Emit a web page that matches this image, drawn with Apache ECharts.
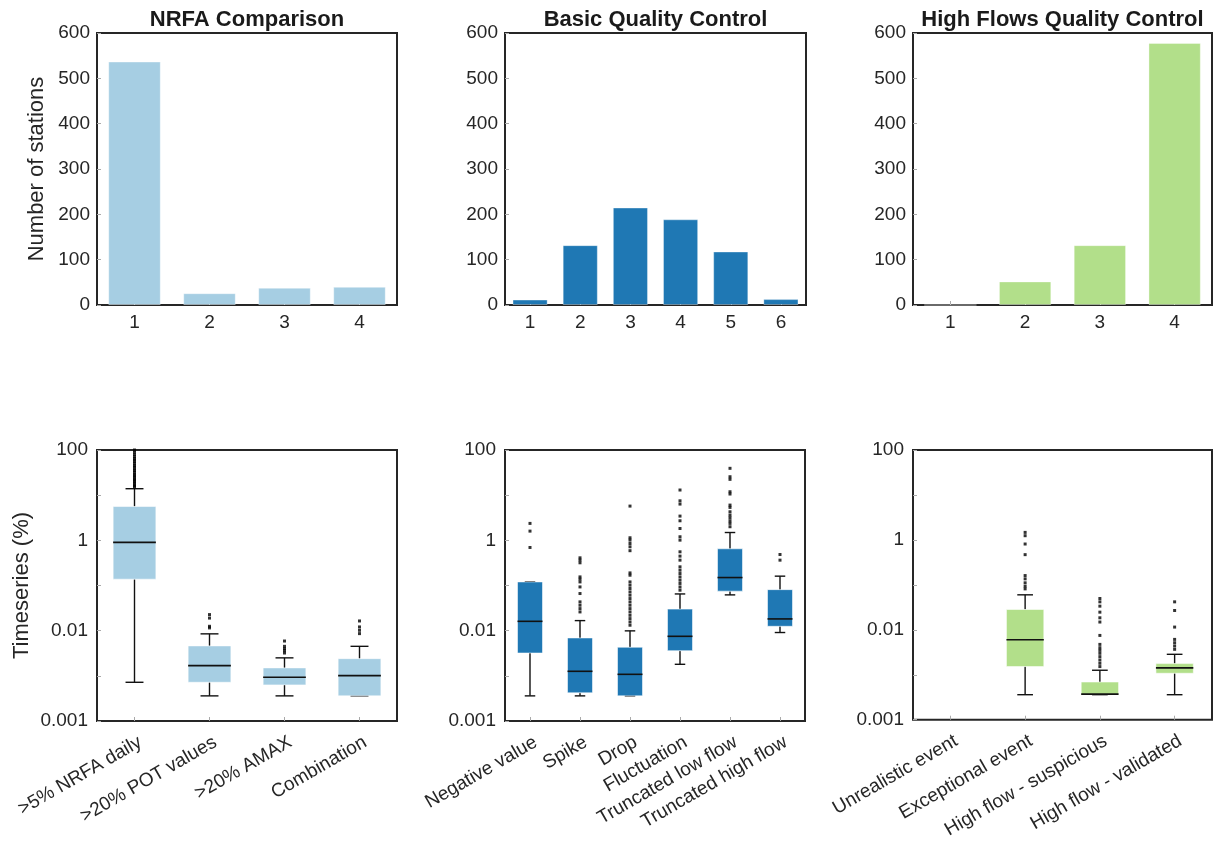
<!DOCTYPE html>
<html>
<head>
<meta charset="utf-8">
<script src="https://cdn.jsdelivr.net/npm/echarts@6/dist/echarts.min.js"></script>
<style>
html,body{margin:0;padding:0;background:#fff;}
#chart{width:1214px;height:843px;}
</style>
</head>
<body>
<div id="chart"></div>
<script>
// ---- Data ----
const panelTitles = ['NRFA Comparison', 'Basic Quality Control', 'High Flows Quality Control'];

const nrfaCats = ['1', '2', '3', '4'];
const nrfaCounts = [537, 26, 38, 40];
const basicCats = ['1', '2', '3', '4', '5', '6'];
const basicCounts = [12, 132, 215, 189, 118, 13];
const highCats = ['1', '2', '3', '4'];
const highCounts = [0, 52, 132, 578];

const barTicks = [0, 100, 200, 300, 400, 500, 600];

const nrfaNames = ['>5% NRFA daily', '>20% POT values', '>20% AMAX', 'Combination'];
const basicNames = ['Negative value', 'Spike', 'Drop', 'Fluctuation', 'Truncated low flow', 'Truncated high flow'];
const highNames = ['Unrealistic event', 'Exceptional event', 'High flow - suspicious', 'High flow - validated'];

// [category index, lower whisker, Q1, median, Q3, upper whisker]
const nrfaBoxes = [
  [0, 0.00072, 0.138, 0.90, 5.6, 13.9],
  [1, 0.00036, 0.00072, 0.00168, 0.0046, 0.0085],
  [2, 0.00036, 0.00063, 0.00093, 0.0015, 0.0025],
  [3, 0.00036, 0.00036, 0.00101, 0.0024, 0.0045]
];
const basicBoxes = [
  [0, 0.00036, 0.0032, 0.0161, 0.12, 0.12],
  [1, 0.00036, 0.00042, 0.00126, 0.0069, 0.0167],
  [2, 0.00036, 0.00036, 0.00108, 0.0043, 0.0099],
  [3, 0.0018, 0.0036, 0.0075, 0.030, 0.065],
  [4, 0.062, 0.075, 0.150, 0.65, 1.49],
  [5, 0.0091, 0.0125, 0.0182, 0.081, 0.161]
];
const highBoxes = [
  [1, 0.00036, 0.00152, 0.0060, 0.0283, 0.060],
  [2, 0.00036, 0.00036, 0.00037, 0.00069, 0.00126],
  [3, 0.00036, 0.00108, 0.00142, 0.00177, 0.00285]
];

// outliers: [category index, value]
const nrfaOutliers = [
  [0, 100], [0, 90], [0, 80], [0, 72], [0, 65], [0, 60], [0, 55], [0, 50], [0, 45], [0, 42],
  [0, 38], [0, 35], [0, 32], [0, 29], [0, 27], [0, 25], [0, 23], [0, 21.5], [0, 20], [0, 18.5],
  [0, 17], [0, 16], [0, 15],
  [1, 0.0227], [1, 0.019], [1, 0.0125], [1, 0.0115],
  [2, 0.0059], [2, 0.0045], [2, 0.0040], [2, 0.0036], [2, 0.0032],
  [3, 0.0164], [3, 0.0121], [3, 0.0102], [3, 0.0086]
];
const basicOutliers = [
  [0, 2.37], [0, 1.60], [0, 0.695],
  [1, 0.41], [1, 0.364], [1, 0.318], [1, 0.155], [1, 0.138], [1, 0.120], [1, 0.093], [1, 0.0664],
  [1, 0.0434], [1, 0.0366], [1, 0.0308], [1, 0.026],
  [2, 5.73], [2, 1.14], [2, 1.01], [2, 0.85], [2, 0.72], [2, 0.59], [2, 0.19], [2, 0.169], [2, 0.12],
  [2, 0.1016], [2, 0.0857], [2, 0.0722], [2, 0.061], [2, 0.0514], [2, 0.0434], [2, 0.0366],
  [2, 0.0308], [2, 0.026], [2, 0.0219], [2, 0.0185], [2, 0.0156], [2, 0.0132],
  [3, 13.0], [3, 7.5], [3, 6.35], [3, 3.44], [3, 2.71], [3, 1.83], [3, 1.2], [3, 1.01], [3, 0.557],
  [3, 0.447], [3, 0.364], [3, 0.259], [3, 0.218], [3, 0.184], [3, 0.155], [3, 0.131], [3, 0.111],
  [3, 0.093], [3, 0.0787],
  [4, 39.3], [4, 25.6], [4, 22.4], [4, 11.9], [4, 10.6], [4, 6.03], [4, 5.36], [4, 4.29], [4, 3.62],
  [4, 3.16], [4, 2.71], [4, 2.37], [4, 2.0],
  [5, 0.486], [5, 0.364]
];
const highOutliers = [
  [1, 1.47], [1, 1.24], [1, 0.81], [1, 0.47], [1, 0.161], [1, 0.136], [1, 0.111], [1, 0.093], [1, 0.0814],
  [2, 0.0497], [2, 0.0419], [2, 0.0336], [2, 0.0247], [2, 0.0185], [2, 0.0149], [2, 0.0075], [2, 0.00474],
  [2, 0.0040], [2, 0.00349], [2, 0.0030], [2, 0.00253], [2, 0.00213], [2, 0.0018], [2, 0.00152],
  [3, 0.0419], [3, 0.0269], [3, 0.0115], [3, 0.00612], [3, 0.00516], [3, 0.00436], [3, 0.00368]
];

const logTickValues = [0.0001, 0.01, 1, 100];
const logTickLabels = ['0.001', '0.01', '1', '100'];

const colors = ['#a6cee3', '#1f78b4', '#b2df8a'];

// ---- Chart ----
const FONT = "'Liberation Sans', Arial, Helvetica, sans-serif";
const TXT = '#262626';
const chart = echarts.init(document.getElementById('chart'), null, {renderer: 'canvas'});

const grids = [
  {left: 97, top: 33, width: 300, height: 272},
  {left: 505, top: 33, width: 301, height: 272},
  {left: 913, top: 33, width: 299, height: 272},
  {left: 97, top: 450, width: 300, height: 271},
  {left: 505, top: 450, width: 300, height: 271},
  {left: 913, top: 450, width: 299, height: 271}
].map(g => Object.assign(g, {show: true, borderColor: '#262626', borderWidth: 2, containLabel: false}));

const catSets = [nrfaCats, basicCats, highCats, nrfaNames, basicNames, highNames];

const xAxes = catSets.map((cats, i) => ({
  type: 'category',
  gridIndex: i,
  data: cats,
  boundaryGap: true,
  axisLine: {show: false},
  axisTick: {show: true, inside: true, alignWithLabel: true, length: 4, lineStyle: {color: '#aaa'}},
  axisLabel: i < 3
    ? {fontSize: 19, color: TXT, fontFamily: FONT, margin: 8}
    : {fontSize: 19, color: TXT, fontFamily: FONT, rotate: 30, margin: 10, interval: 0,
       lineHeight: 23, formatter: v => ' \n' + v},
  splitLine: {show: false}
}));

const yAxes = [0, 1, 2, 3, 4, 5].map(i => {
  const base = {
    gridIndex: i,
    axisLine: {show: false},
    axisTick: {show: true, inside: true, length: 4, lineStyle: {color: '#aaa'}},
    splitLine: {show: false}
  };
  if (i < 3) {
    return Object.assign(base, {
      type: 'value', min: barTicks[0], max: barTicks[barTicks.length - 1], interval: 100,
      axisLabel: {fontSize: 19, color: TXT, fontFamily: FONT, margin: 7},
      name: i === 0 ? 'Number of stations' : '',
      nameLocation: 'middle', nameGap: 49,
      nameTextStyle: {fontSize: 22, color: TXT, fontFamily: FONT}
    });
  }
  return Object.assign(base, {
    type: 'log', logBase: 10, min: logTickValues[0], max: logTickValues[logTickValues.length - 1],
    axisLabel: {
      fontSize: 19, color: TXT, fontFamily: FONT, margin: 9,
      formatter: v => {
        for (let k = 0; k < logTickValues.length; k++) {
          if (Math.abs(Math.log10(v) - Math.log10(logTickValues[k])) < 1e-6) return logTickLabels[k];
        }
        return '';
      }
    },
    name: i === 3 ? 'Timeseries (%)' : '',
    nameLocation: 'middle', nameGap: 64,
    nameTextStyle: {fontSize: 22, color: TXT, fontFamily: FONT}
  });
});

function boxRenderer(nCats, ratio, color) {
  return function (params, api) {
    const cs = params.coordSys;
    const band = cs.width / nCats;
    const w = band * ratio;
    const cap = w * 0.42;
    const x = api.value(0);
    const pLo = api.coord([x, api.value(1)]);
    const pQ1 = api.coord([x, api.value(2)]);
    const pMed = api.coord([x, api.value(3)]);
    const pQ3 = api.coord([x, api.value(4)]);
    const pHi = api.coord([x, api.value(5)]);
    const cx = pMed[0];
    const ls = {stroke: '#111', lineWidth: 1.4};
    return {
      type: 'group',
      children: [
        {type: 'line', shape: {x1: cx, y1: pQ3[1], x2: cx, y2: pHi[1]}, style: ls},
        {type: 'line', shape: {x1: cx - cap / 2, y1: pHi[1], x2: cx + cap / 2, y2: pHi[1]}, style: ls},
        {type: 'line', shape: {x1: cx, y1: pQ1[1], x2: cx, y2: pLo[1]}, style: ls},
        {type: 'line', shape: {x1: cx - cap / 2, y1: pLo[1], x2: cx + cap / 2, y2: pLo[1]}, style: ls},
        {type: 'rect', shape: {x: cx - w / 2, y: pQ3[1], width: w, height: Math.max(pQ1[1] - pQ3[1], 1)},
          style: {fill: color, stroke: 'rgba(255,255,255,0.55)', lineWidth: 1}},
        {type: 'line', shape: {x1: cx - w / 2, y1: pMed[1], x2: cx + w / 2, y2: pMed[1]}, style: {stroke: '#111', lineWidth: 1.6}}
      ]
    };
  };
}

const barData = [nrfaCounts, basicCounts, highCounts];
const boxData = [nrfaBoxes, basicBoxes, highBoxes];
const outData = [nrfaOutliers, basicOutliers, highOutliers];
const boxRatios = [0.57, 0.5, 0.5];

const series = [];
barData.forEach((d, i) => {
  series.push({
    type: 'bar', xAxisIndex: i, yAxisIndex: i, data: d, barWidth: '70%',
    itemStyle: {color: colors[i], borderColor: 'rgba(255,255,255,0.35)', borderWidth: 1},
    silent: true
  });
});
boxData.forEach((d, i) => {
  series.push({
    type: 'custom', xAxisIndex: 3 + i, yAxisIndex: 3 + i, data: d,
    encode: {x: 0, y: [1, 2, 3, 4, 5]},
    renderItem: boxRenderer(catSets[3 + i].length, boxRatios[i], colors[i]),
    silent: true, z: 2
  });
  series.push({
    type: 'scatter', xAxisIndex: 3 + i, yAxisIndex: 3 + i, data: outData[i],
    symbol: 'rect', symbolSize: 3, itemStyle: {color: '#000'}, silent: true, z: 3
  });
});

const titles = panelTitles.map((t, i) => ({
  text: t,
  left: grids[i].left + grids[i].width / 2,
  top: 9,
  textAlign: 'center',
  padding: 0,
  textStyle: {fontSize: 22, fontWeight: 'bold', color: '#1a1a1a', fontFamily: FONT}
}));

chart.setOption({
  animation: false,
  backgroundColor: '#fff',
  title: titles,
  grid: grids,
  xAxis: xAxes,
  yAxis: yAxes,
  series: series
});
</script>
</body>
</html>
